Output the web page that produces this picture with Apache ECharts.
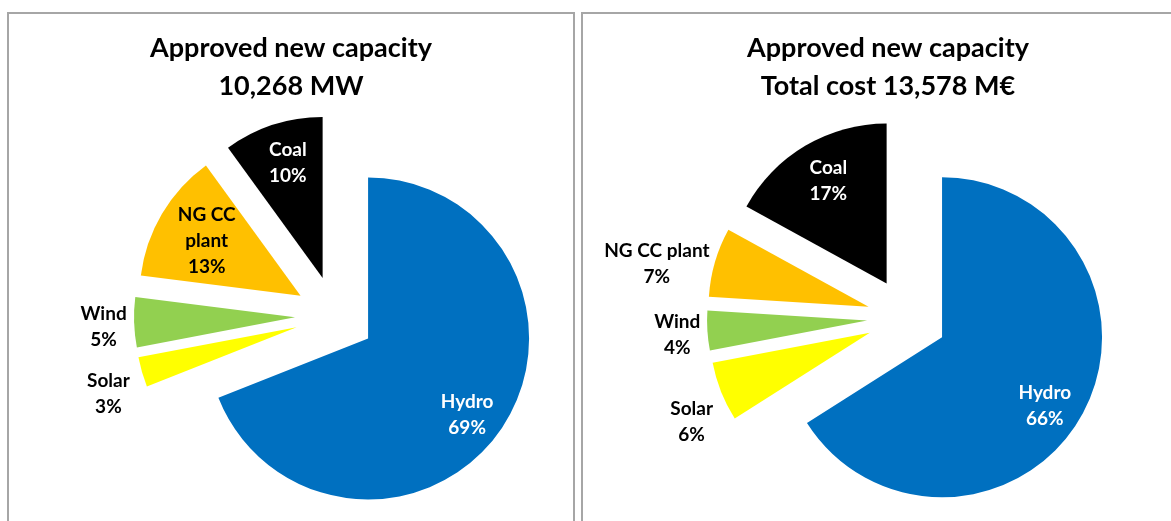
<!DOCTYPE html>
<html>
<head>
<meta charset="utf-8">
<title>Approved new capacity</title>
<script src="https://cdn.jsdelivr.net/npm/echarts@6/dist/echarts.min.js"></script>
<style>
    body {
        margin: 0;
        background: #fff;
        width: 1171px;
        height: 521px;
        overflow: hidden;
        position: relative;
    }
    .panel {
        position: absolute;
        top: 12px;
        height: 540px;
        border: 2px solid #a6a6a6;
        box-sizing: border-box;
    }
    #leftPanel { left: 7px; width: 568px; }
    #rightPanel { left: 581px; width: 614px; }
    .chart { width: 100%; height: 100%; }
</style>
</head>
<body>
<div class="panel" id="leftPanel"><div class="chart" id="capacity"></div></div>
<div class="panel" id="rightPanel"><div class="chart" id="cost"></div></div>
<script>
    // data
    var categories = ['Hydro', 'Solar', 'Wind', 'NG CC plant', 'Coal'];
    var capacityShare = [69, 3, 5, 13, 10];   // % of 10,268 MW
    var costShare = [66, 6, 4, 7, 17];        // % of 13,578 M€
    var capacityTitle = ['Approved new capacity', '10,268 MW'];
    var costTitle = ['Approved new capacity', 'Total cost 13,578 M€'];

    var colors = ['#0070c0', '#ffff00', '#92d050', '#ffc000', '#000000'];
    var labelColors = ['#ffffff', '#000000', '#000000', '#000000', '#ffffff'];
    // nudge of each label away from the default inside spot (px)
    var capacityLabelShift = [[30, 29], [-108, 43], [-108, 7], [-22, -12], [-9, -36]];
    var costLabelShift = [[30, 29], [-101, 59], [-107, 9], [-132, -20], [-16, -31]];

    var font = 'Lato, "Open Sans", sans-serif';

    function pieOption(title, values, shifts, center, radius, wrapNames) {
        return {
            animation: false,
            title: {
                text: title.join('\n'),
                left: 'center',
                top: 15,
                padding: 0,
                textStyle: {
                    fontFamily: font,
                    fontWeight: 'bold',
                    fontSize: 27,
                    lineHeight: 38,
                    color: '#000'
                }
            },
            series: [{
                type: 'pie',
                center: center,
                radius: radius,
                startAngle: 90,
                clockwise: true,
                selectedMode: 'multiple',
                selectedOffset: 40,
                emphasis: { disabled: true },
                select: { itemStyle: { borderWidth: 0 } },
                labelLine: { show: false },
                label: {
                    position: 'inside',
                    fontFamily: font,
                    fontWeight: 'bold',
                    fontSize: 19,
                    lineHeight: 26,
                    formatter: function (p) {
                        var name = wrapNames ? p.name.replace(' plant', '\nplant') : p.name;
                        return name + '\n' + p.value + '%';
                    }
                },
                labelLayout: function (p) {
                    return { dx: shifts[p.dataIndex][0], dy: shifts[p.dataIndex][1] };
                },
                data: values.map(function (v, i) {
                    return {
                        name: categories[i],
                        value: v,
                        selected: true,
                        itemStyle: { color: colors[i] },
                        label: { color: labelColors[i] }
                    };
                })
            }]
        };
    }

    var capacity = echarts.init(document.getElementById('capacity'));
    var cost = echarts.init(document.getElementById('cost'));
    capacity.setOption(pieOption(capacityTitle, capacityShare, capacityLabelShift, [326, 302], 161, true));
    cost.setOption(pieOption(costTitle, costShare, costLabelShift, [324, 304], 160, false));
</script>
</body>
</html>
